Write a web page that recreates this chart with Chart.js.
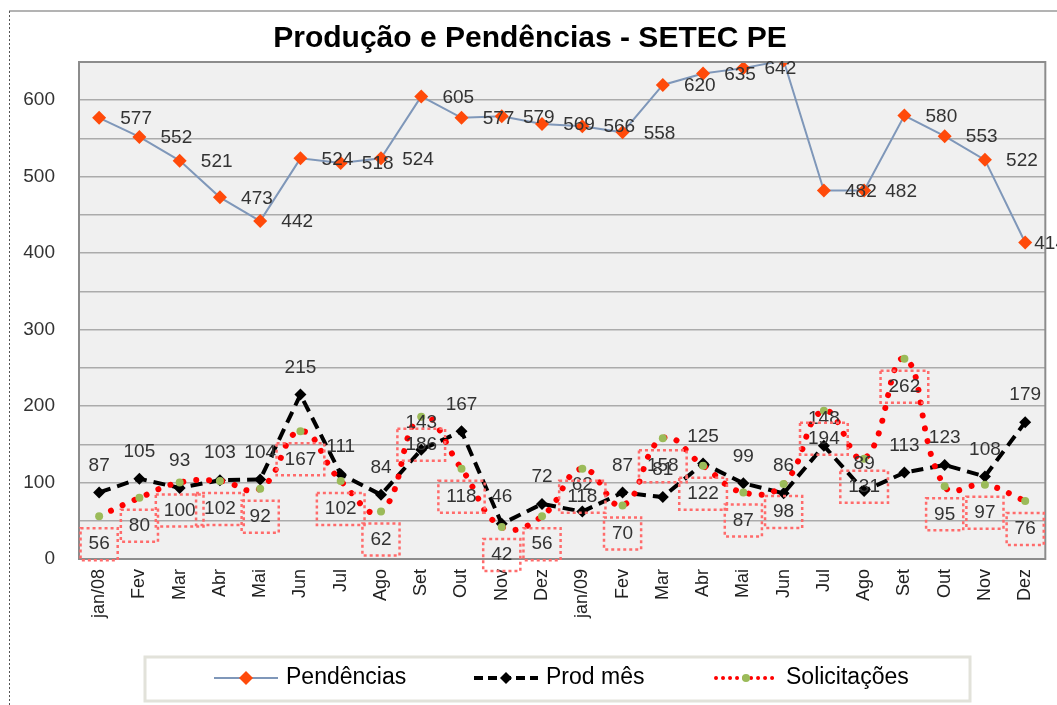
<!DOCTYPE html>
<html><head><meta charset="utf-8">
<script src="https://cdn.jsdelivr.net/npm/chart.js@4.4.1/dist/chart.umd.min.js"></script>
<style>html,body{margin:0;padding:0;background:#fff}#wrap{width:1057px;height:705px;position:relative;overflow:hidden}</style>
</head><body><div id="wrap"><canvas id="c" width="1057" height="705"></canvas></div>
<script>
const categories = ['jan/08','Fev','Mar','Abr','Mai','Jun','Jul','Ago','Set','Out','Nov','Dez',
                    'jan/09','Fev','Mar','Abr','Mai','Jun','Jul','Ago','Set','Out','Nov','Dez'];
const pendencias   = [577,552,521,473,442,524,518,524,605,577,579,569,566,558,620,635,642,652,482,482,580,553,522,414];
const prodMes      = [87,105,93,103,104,215,111,84,143,167,46,72,62,87,81,125,99,86,148,89,113,123,108,179];
const solicitacoes = [56,80,100,102,92,167,102,62,186,118,42,56,118,70,158,122,87,98,194,131,262,95,97,76];
const seriesNames  = ['Pendências','Prod mês','Solicitações'];
const yTicks       = [0,100,200,300,400,500,600];
const titleText    = 'Produção e Pendências - SETEC PE';

const FONT = '"Liberation Sans", Arial, sans-serif';
const C_PEN_LINE = '#7f97b9', C_PEN_PT = '#ff4a0a';
const C_PROD = '#000000';
const C_SOL_LINE = '#ff0000', C_SOL_PT = '#9bbb59';

const decorPlugin = {
  id: 'decor',
  beforeDraw(chart) {
    const ctx = chart.ctx, a = chart.chartArea;
    ctx.save();
    ctx.fillStyle = '#ffffff';
    ctx.fillRect(0, 0, chart.width, chart.height);
    ctx.strokeStyle = '#9a9a9a'; ctx.lineWidth = 1.5;
    ctx.beginPath(); ctx.moveTo(9, 11); ctx.lineTo(chart.width, 11); ctx.stroke();
    ctx.strokeStyle = '#555'; ctx.lineWidth = 1; ctx.setLineDash([2, 2]);
    ctx.beginPath(); ctx.moveTo(9.5, 11); ctx.lineTo(9.5, chart.height); ctx.stroke();
    ctx.setLineDash([]);
    ctx.fillStyle = '#f0f0f0';
    ctx.fillRect(a.left, a.top, a.right - a.left, a.bottom - a.top);
    ctx.fillStyle = '#000';
    ctx.font = 'bold 30px ' + FONT;
    ctx.textAlign = 'center'; ctx.textBaseline = 'middle';
    ctx.fillText(titleText, 530, 39);
    ctx.restore();
  },
  afterDatasetsDraw(chart) {
    const ctx = chart.ctx, a = chart.chartArea;
    ctx.save();
    ctx.strokeStyle = '#8c8c8c'; ctx.lineWidth = 2;
    ctx.strokeRect(a.left, a.top, a.right - a.left, a.bottom - a.top);
    ctx.font = '19px ' + FONT;
    ctx.textAlign = 'center'; ctx.textBaseline = 'middle';
    ctx.fillStyle = '#333';
    chart.getDatasetMeta(0).data.forEach((pt, i) => {
      if (pt.y < a.top) return;
      const t = String(pendencias[i]);
      const w = ctx.measureText(t).width;
      const cx = Math.min(pt.x + 37, 1066 - w / 2);
      ctx.fillText(t, cx, pt.y + 1);
    });
    chart.getDatasetMeta(1).data.forEach((pt, i) => {
      ctx.fillText(String(prodMes[i]), pt.x, pt.y - 27);
    });
    chart.getDatasetMeta(2).data.forEach((pt, i) => {
      const t = String(solicitacoes[i]);
      const w = ctx.measureText(t).width + 16, h = 32, cy = pt.y + 28;
      ctx.save();
      ctx.strokeStyle = '#ff6b6b'; ctx.lineWidth = 2.5; ctx.setLineDash([3, 3]);
      ctx.strokeRect(pt.x - w / 2, cy - h / 2, w, h);
      ctx.restore();
      ctx.fillText(t, pt.x, cy);
    });
    ctx.restore();
  },
  afterDraw(chart) {
    const ctx = chart.ctx;
    ctx.save();
    ctx.strokeStyle = '#e2e2da'; ctx.lineWidth = 3;
    ctx.strokeRect(145, 657, 825, 44);
    const cy = 678;
    ctx.font = '23px ' + FONT; ctx.textBaseline = 'middle'; ctx.textAlign = 'left';
    function diamond(x, y, r, col) {
      ctx.fillStyle = col; ctx.beginPath();
      ctx.moveTo(x - r, y); ctx.lineTo(x, y - r); ctx.lineTo(x + r, y); ctx.lineTo(x, y + r);
      ctx.closePath(); ctx.fill();
    }
    const items = [
      {x: 214, draw: (x) => {
        ctx.strokeStyle = C_PEN_LINE; ctx.lineWidth = 2;
        ctx.beginPath(); ctx.moveTo(x, cy); ctx.lineTo(x + 64, cy); ctx.stroke();
        diamond(x + 32, cy, 7, C_PEN_PT);
      }},
      {x: 474, draw: (x) => {
        ctx.strokeStyle = C_PROD; ctx.lineWidth = 4; ctx.setLineDash([9, 5]);
        ctx.beginPath(); ctx.moveTo(x, cy); ctx.lineTo(x + 64, cy); ctx.stroke();
        ctx.setLineDash([]);
        diamond(x + 32, cy, 6, C_PROD);
      }},
      {x: 714, draw: (x) => {
        ctx.strokeStyle = C_SOL_LINE; ctx.lineWidth = 4; ctx.lineCap = 'round'; ctx.setLineDash([0.01, 7]);
        ctx.beginPath(); ctx.moveTo(x + 2, cy); ctx.lineTo(x + 62, cy); ctx.stroke();
        ctx.setLineDash([]); ctx.lineCap = 'butt';
        ctx.fillStyle = C_SOL_PT; ctx.beginPath(); ctx.arc(x + 32, cy, 4, 0, Math.PI * 2); ctx.fill();
      }}
    ];
    items.forEach((it, k) => {
      ctx.save(); it.draw(it.x); ctx.restore();
      ctx.fillStyle = '#000';
      ctx.fillText(seriesNames[k], it.x + 72, cy);
    });
    ctx.restore();
  }
};

new Chart(document.getElementById('c'), {
  type: 'line',
  data: {
    labels: categories,
    datasets: [
      {label: seriesNames[0], data: pendencias, borderColor: C_PEN_LINE, borderWidth: 2,
       pointStyle: 'rectRot', pointRadius: 7, pointBackgroundColor: C_PEN_PT, pointBorderColor: C_PEN_PT,
       pointBorderWidth: 0, tension: 0, order: 2, clip: {left: 30, top: 0, right: 30, bottom: 30}},
      {label: seriesNames[1], data: prodMes, borderColor: C_PROD, borderWidth: 4, borderDash: [12, 7],
       pointStyle: 'rectRot', pointRadius: 6, pointBackgroundColor: C_PROD, pointBorderColor: C_PROD,
       pointBorderWidth: 0, tension: 0, order: 1},
      {label: seriesNames[2], data: solicitacoes, borderColor: C_SOL_LINE, borderWidth: 6,
       borderDash: [0.01, 13], borderCapStyle: 'round',
       pointStyle: 'circle', pointRadius: 4, pointBackgroundColor: C_SOL_PT, pointBorderColor: C_SOL_PT,
       pointBorderWidth: 0, tension: 0.45, order: 0}
    ]
  },
  options: {
    responsive: false, animation: false, devicePixelRatio: 1,
    layout: {padding: {top: 62, right: 10, left: 0, bottom: 0}},
    plugins: {legend: {display: false}, title: {display: false}, tooltip: {enabled: false}},
    scales: {
      x: {
        offset: true,
        grid: {display: false, drawTicks: false},
        border: {display: true, color: '#8c8c8c', width: 2},
        ticks: {autoSkip: false, minRotation: 90, maxRotation: 90, padding: 10, color: '#222',
                font: {family: FONT, size: 18}},
        afterFit(s) { s.height = 146; }
      },
      y: {
        min: 0, max: 650,
        grid: {color: '#ababab', lineWidth: 1.5, drawTicks: false},
        border: {display: true, color: '#8c8c8c', width: 2},
        ticks: {stepSize: 50, padding: 24, color: '#333', font: {family: FONT, size: 19},
                callback: (v) => yTicks.includes(v) ? String(v) : ''},
        afterFit(s) { s.width = 79; }
      }
    }
  },
  plugins: [decorPlugin]
});
</script>
</body></html>
